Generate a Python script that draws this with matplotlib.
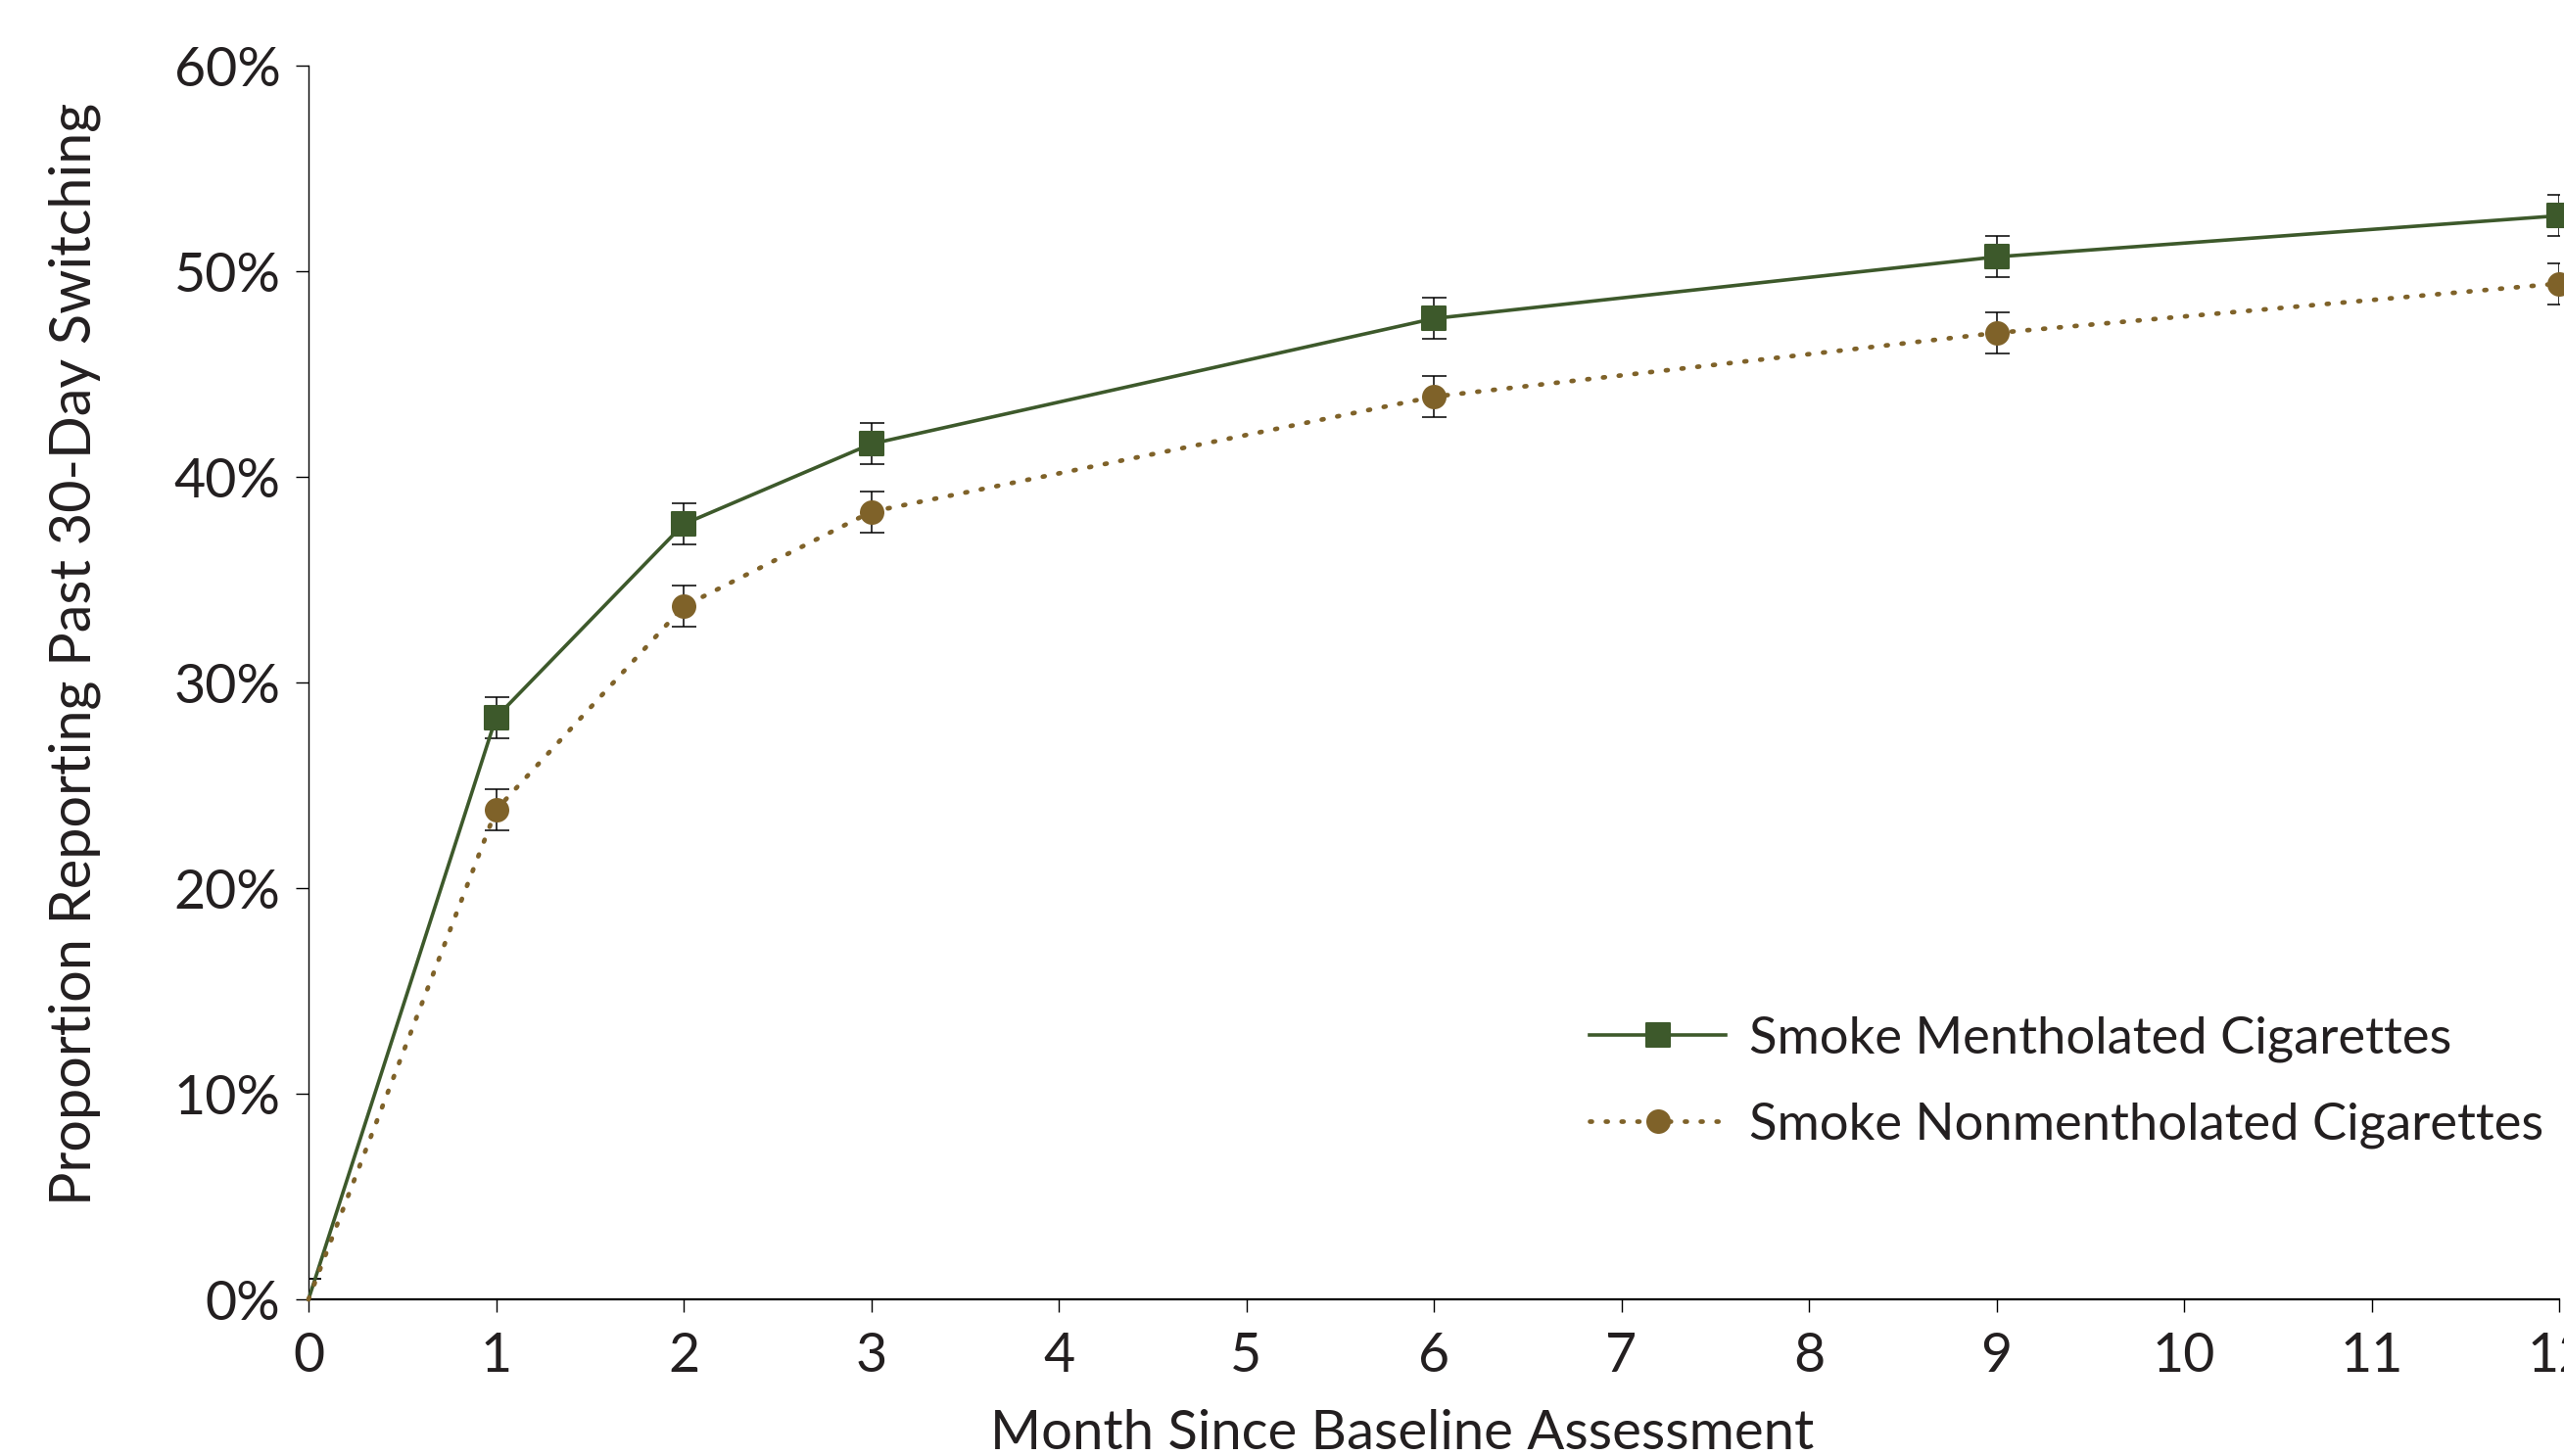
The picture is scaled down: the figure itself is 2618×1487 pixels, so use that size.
import matplotlib.pyplot as plt
from matplotlib.markers import MarkerStyle

plt.rcParams["font.family"] = ["Lato", "DejaVu Sans"]

months = [0, 1, 2, 3, 6, 9, 12]
menthol = [0.0, 28.3, 37.7, 41.6, 47.7, 50.7, 52.7]
menthol_err = [1.0, 1.0, 1.0, 1.0, 1.0, 1.0, 1.0]
nonmenthol = [0.0, 23.8, 33.7, 38.3, 43.9, 47.0, 49.4]
nonmenthol_err = [1.0, 1.0, 1.0, 1.0, 1.0, 1.0, 1.0]
x_ticks = list(range(0, 13))
y_ticks = [0, 10, 20, 30, 40, 50, 60]

green = "#3D592B"
brown = "#7F6229"
ink = "#231F20"

fig = plt.figure(figsize=(26.18, 14.87), dpi=100)
ax = fig.add_axes([315 / 2618, 1 - 1327 / 1487, (2613 - 315) / 2618, (1327 - 67) / 1487])

# error bars first, markers sit on top
for y, err in [(menthol, menthol_err), (nonmenthol, nonmenthol_err)]:
    ax.errorbar(months, y, yerr=err, fmt="none", ecolor="black",
                elinewidth=1.1, capsize=9, capthick=1.1, zorder=2)

sq = MarkerStyle("s", joinstyle="round")
ax.plot(months, menthol, color=green, lw=2.6, marker=sq, ms=17,
        mec=green, mew=1.5, markevery=slice(1, None), zorder=3,
        clip_on=False, label="Smoke Mentholated Cigarettes")
ax.plot(months, nonmenthol, color=brown, lw=3.4, ls=(0, (0.42, 3.0)),
        dash_capstyle="round", marker="o", ms=18, mec=brown, mew=0,
        markevery=slice(1, None), zorder=3, clip_on=False,
        label="Smoke Nonmentholated Cigarettes")

ax.set_xlim(0, 12)
ax.set_ylim(0, 60)
ax.set_xticks(x_ticks)
ax.set_yticks(y_ticks)
ax.set_yticklabels([f"{v}%" for v in y_ticks])
for s in ["top", "right"]:
    ax.spines[s].set_visible(False)
ax.spines["left"].set_linewidth(1.0)
ax.spines["bottom"].set_linewidth(1.6)
ax.tick_params(axis="both", colors="black", width=1.0, length=9.5,
               labelsize=40, labelcolor=ink)
ax.tick_params(axis="x", pad=14)
ax.tick_params(axis="y", pad=11)

fig.text(76 / 2618, 1 - 668 / 1487, "Proportion Reporting Past 30-Day Switching",
         rotation=90, ha="center", va="center", fontsize=41.5, color=ink)
fig.text(1432 / 2618, 1 - 1480 / 1487, "Month Since Baseline Assessment",
         ha="center", va="baseline", fontsize=40.5, color=ink)

ax.legend(loc="center left", bbox_to_anchor=(1623 / 2618, 1 - 1105 / 1487),
          bbox_transform=fig.transFigure, frameon=False,
          handlelength=2.65, handletextpad=0.45, labelspacing=0.78,
          borderpad=0, borderaxespad=0, prop={"size": 37.8},
          labelcolor=ink)

fig.savefig("out.png", dpi=100)
